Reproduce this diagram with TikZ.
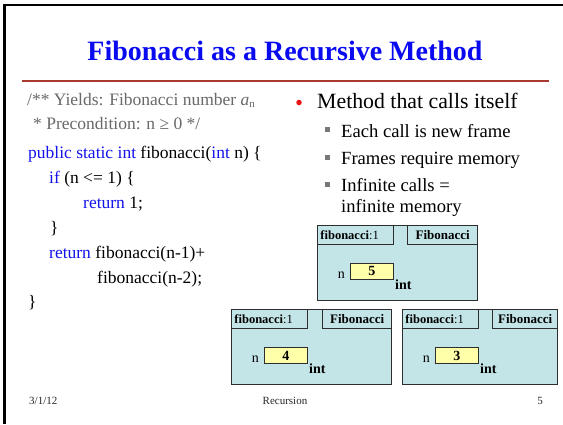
\documentclass[tikz,border=0pt]{standalone}
\usepackage{fontspec}
\setmainfont{Liberation Serif}
\definecolor{titleblue}{RGB}{10,10,240}
\definecolor{kw}{RGB}{20,20,235}
\definecolor{cmt}{RGB}{105,105,105}
\definecolor{rule}{RGB}{170,58,48}
\definecolor{bred}{RGB}{230,20,20}
\definecolor{sqgray}{RGB}{120,120,120}
\definecolor{framefill}{RGB}{196,229,231}
\definecolor{framedraw}{RGB}{45,45,45}
\definecolor{valfill}{RGB}{255,255,170}
\definecolor{foot}{RGB}{40,40,40}
\tikzset{
  framebody/.style={draw=framedraw, fill=framefill, line width=1.1pt, inner sep=0pt, minimum height=75pt},
  tabone/.style={draw=framedraw, fill=framefill, line width=0.9pt, inner ysep=0pt, inner xsep=3pt, text width=70pt, align=left, minimum height=19pt, font=\fontsize{12.5}{13}\selectfont},
  tabtwo/.style={draw=framedraw, fill=framefill, line width=0.9pt, inner sep=0pt, minimum height=19pt, font=\fontsize{13}{13}\selectfont\bfseries},
  valbox/.style={draw=framedraw, fill=valfill, line width=0.9pt, inner sep=0pt, minimum width=43pt, minimum height=16pt, font=\fontsize{14}{14}\selectfont\bfseries},
  lbl/.style={inner sep=0pt, font=\fontsize{14}{14}\selectfont},
  codeline/.style={anchor=base west, inner sep=0pt, font=\fontsize{17.5}{17.5}\selectfont},
  bigtext/.style={anchor=base west, inner sep=0pt, font=\fontsize{21.8}{22}\selectfont},
  subtext/.style={anchor=base west, inner sep=0pt, font=\fontsize{18.6}{19}\selectfont},
  sqbullet/.style={fill=sqgray, inner sep=0pt, minimum size=5pt},
  foottext/.style={anchor=base, inner sep=0pt, text=foot, font=\fontsize{11}{11}\selectfont},
}
% #1 name, #2 x, #3 y, #4 width, #5 tab2 width, #6 value
\newcommand\fibframe[6]{%
  \node[framebody, minimum width=#4pt, anchor=north west] (#1) at (#2,#3) {};
  \node[tabone, anchor=north west] (#1a) at (#1.north west) {\textbf{fibonacci}:1};
  \node[tabtwo, minimum width=#5pt, anchor=north east] (#1b) at (#1.north east) {Fibonacci};
  \node[valbox, anchor=north west] (#1v) at ([shift={(33pt,-38pt)}]#1.north west) {#6};
  \node[lbl, anchor=base east] (#1n) at ([shift={(28pt,-53pt)}]#1.north west) {n};
  \node[lbl, anchor=base west, font=\fontsize{14}{14}\selectfont\bfseries] (#1i) at ([shift={(78pt,-64pt)}]#1.north west) {int};
}
\begin{document}
\begin{tikzpicture}[x=1pt,y=-1pt]
\useasboundingbox (0,0) rectangle (563,424);
\fill[white] (0,0) rectangle (563,424);
% slide border
\coordinate (tl) at (4.3,5);
\coordinate (tr) at (563,5);
\coordinate (bl) at (4.3,424);
\draw[line width=2.6pt, black] (tr) -- (tl) -- (bl);
% title
\node[anchor=base, inner sep=0pt, text=titleblue, font=\fontsize{28}{28}\selectfont\bfseries] (title) at (285,60) {Fibonacci as a Recursive Method};
\coordinate (rl) at (22,81);
\coordinate (rr) at (549,81);
\draw[rule, line width=2.2pt] (rl) -- (rr);
% code
\node[codeline, text=cmt] (c1) at (27,105) {/** Yields: Fibonacci number \textit{a}\raisebox{-0.25ex}{\fontsize{11}{11}\selectfont n}};
\node[codeline, text=cmt] (c2) at (33,129) {* Precondition: n ≥ 0 */};
\node[codeline] (c3) at (28,158) {\textcolor{kw}{public static int} fibonacci(\textcolor{kw}{int} n) \{};
\node[codeline] (c4) at (49,183) {\textcolor{kw}{if} (n <= 1) \{};
\node[codeline] (c5) at (83,208) {\textcolor{kw}{return} 1;};
\node[codeline] (c6) at (50,233) {\}};
\node[codeline] (c7) at (49,258) {\textcolor{kw}{return} fibonacci(n-1)+};
\node[codeline] (c8) at (97,283) {fibonacci(n-2);};
\node[codeline] (c9) at (28,307) {\}};
% bullets
\node[circle, fill=bred, inner sep=0pt, minimum size=5.5pt] (b0) at (299,102.5) {};
\node[bigtext] (t0) at (317,108) {Method that calls itself};
\node[sqbullet] (s1) at (327.5,129.5) {};
\node[subtext] (t1) at (341,137) {Each call is new frame};
\node[sqbullet] (s2) at (327.5,157) {};
\node[subtext] (t2) at (341,164) {Frames require memory};
\node[sqbullet] (s3) at (327.5,184.5) {};
\node[subtext] (t3) at (341,191) {Infinite calls =};
\node[subtext] (t4) at (341,212) {infinite memory};
% frames
\fibframe{fa}{317}{225}{160}{70}{5}
\fibframe{fb}{231}{309}{160}{69}{4}
\fibframe{fc}{402}{309}{155}{65}{3}
% footer
\node[foottext, anchor=base west] (d) at (29,404) {3/1/12};
\node[foottext] (r) at (285,404) {Recursion};
\node[foottext] (p) at (540,404) {5};
\end{tikzpicture}
\end{document}
